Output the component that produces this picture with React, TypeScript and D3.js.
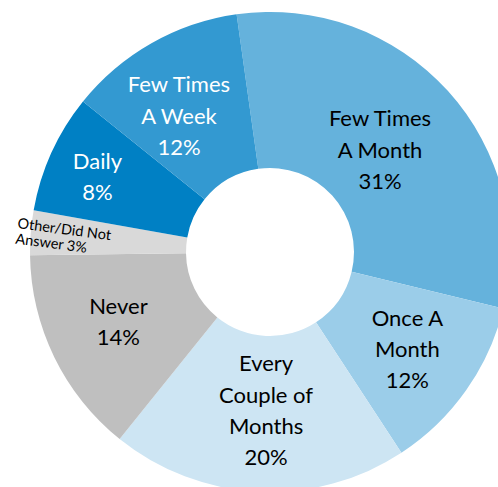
import React from "react";
import * as d3 from "d3";

const categories = [
  "Few Times A Month",
  "Once A Month",
  "Every Couple of Months",
  "Never",
  "Other/Did Not Answer",
  "Daily",
  "Few Times A Week",
];
const values = [31, 12, 20, 14, 3, 8, 12];
const labelLines = [
  ["Few Times", "A Month", "31%"],
  ["Once A", "Month", "12%"],
  ["Every", "Couple of", "Months", "20%"],
  ["Never", "14%"],
  ["Other/Did Not", "Answer 3%"],
  ["Daily", "8%"],
  ["Few Times", "A Week", "12%"],
];
const colors = ["#65B2DC", "#9BCDE9", "#CDE5F3", "#BFBFBF", "#D9D9D9", "#0080C4", "#3399D1"];
const textColors = ["#000", "#000", "#000", "#000", "#000", "#fff", "#fff"];
const labelNudge: [number, number][] = [
  [-10, 7],
  [5, 4],
  [4, -3],
  [-6, -1],
  [-91.5, -11],
  [-25, -8],
  [-11, 5],
];

const W = 498;
const H = 487;
const cx = 270;
const cy = 252;
const R = 240;
const r = 84;
const startDeg = -8;

export default function App() {
  const pie = d3
    .pie<number>()
    .sort(null)
    .value((d) => d)
    .startAngle((startDeg * Math.PI) / 180)
    .endAngle(((startDeg + 360) * Math.PI) / 180);
  const arcs = pie(values);
  const arc = d3.arc<d3.PieArcDatum<number>>().innerRadius(r).outerRadius(R);
  const labelArc = d3.arc<d3.PieArcDatum<number>>().innerRadius(162).outerRadius(162);
  const lh = 31.3;

  return (
    <svg
      width={W}
      height={H}
      style={{ position: "absolute", left: 0, top: 0, display: "block", background: "#fff" }}
      fontFamily="Lato, 'Noto Sans', sans-serif"
    >
      <g transform={`translate(${cx},${cy})`}>
        {arcs.map((a, i) => (
          <path key={categories[i]} d={arc(a) || ""} fill={colors[i]} />
        ))}
      </g>
      {arcs.map((a, i) => {
        const [x0, y0] = labelArc.centroid(a);
        const x = cx + x0 + labelNudge[i][0];
        const y = cy + y0 + labelNudge[i][1];
        const lines = labelLines[i];
        if (i === 4) {
          return (
            <text
              key={"l" + i}
              transform={`translate(${x},${y}) rotate(7.5)`}
              fontSize={14.5}
              fill={textColors[i]}
              textAnchor="start"
            >
              {lines.map((t, j) => (
                <tspan key={j} x={0} y={j * 15.5}>
                  {t}
                </tspan>
              ))}
            </text>
          );
        }
        const top = y - ((lines.length - 1) / 2) * lh + 7.5;
        return (
          <text key={"l" + i} fontSize={22} fill={textColors[i]} textAnchor="middle">
            {lines.map((t, j) => (
              <tspan key={j} x={x} y={top + j * lh}>
                {t}
              </tspan>
            ))}
          </text>
        );
      })}
    </svg>
  );
}
